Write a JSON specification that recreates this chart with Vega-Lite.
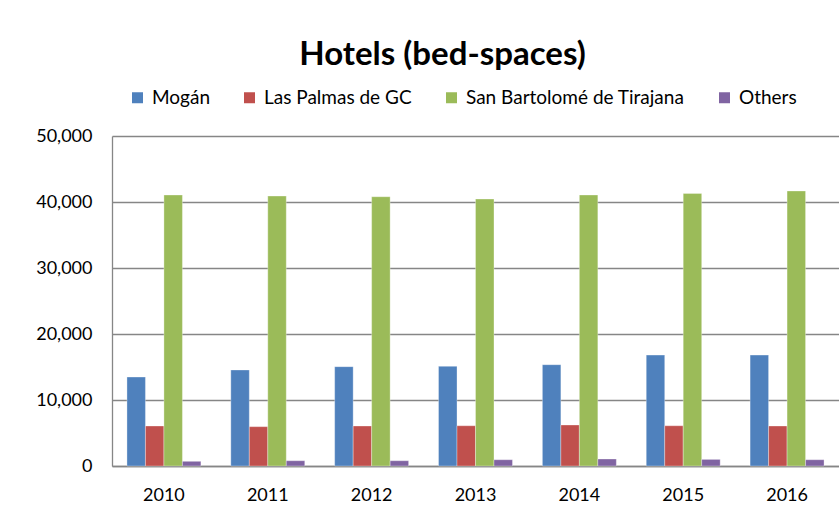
{
  "$schema": "https://vega.github.io/schema/vega-lite/v6.json",
  "width": 727,
  "height": 330,
  "autosize": {"type": "none"},
  "padding": {"left": 112, "top": 136, "right": 0, "bottom": 50},
  "background": "white",
  "title": {
    "text": "Hotels (bed-spaces)",
    "font": "Lato",
    "fontSize": 33,
    "fontWeight": "bold",
    "color": "#000000",
    "anchor": "middle",
    "dx": -33,
    "offset": 16
  },
  "data": {
    "values": [
      {"year": "2010", "series": "Mogán", "value": 13480},
      {"year": "2010", "series": "Las Palmas de GC", "value": 6060},
      {"year": "2010", "series": "San Bartolomé de Tirajana", "value": 41060},
      {"year": "2010", "series": "Others", "value": 710},
      {"year": "2011", "series": "Mogán", "value": 14550},
      {"year": "2011", "series": "Las Palmas de GC", "value": 5960},
      {"year": "2011", "series": "San Bartolomé de Tirajana", "value": 40900},
      {"year": "2011", "series": "Others", "value": 800},
      {"year": "2012", "series": "Mogán", "value": 15050},
      {"year": "2012", "series": "Las Palmas de GC", "value": 6060},
      {"year": "2012", "series": "San Bartolomé de Tirajana", "value": 40800},
      {"year": "2012", "series": "Others", "value": 800},
      {"year": "2013", "series": "Mogán", "value": 15100},
      {"year": "2013", "series": "Las Palmas de GC", "value": 6100},
      {"year": "2013", "series": "San Bartolomé de Tirajana", "value": 40450},
      {"year": "2013", "series": "Others", "value": 950},
      {"year": "2014", "series": "Mogán", "value": 15350},
      {"year": "2014", "series": "Las Palmas de GC", "value": 6210},
      {"year": "2014", "series": "San Bartolomé de Tirajana", "value": 41060},
      {"year": "2014", "series": "Others", "value": 1060},
      {"year": "2015", "series": "Mogán", "value": 16800},
      {"year": "2015", "series": "Las Palmas de GC", "value": 6100},
      {"year": "2015", "series": "San Bartolomé de Tirajana", "value": 41300},
      {"year": "2015", "series": "Others", "value": 1000},
      {"year": "2016", "series": "Mogán", "value": 16800},
      {"year": "2016", "series": "Las Palmas de GC", "value": 6060},
      {"year": "2016", "series": "San Bartolomé de Tirajana", "value": 41670},
      {"year": "2016", "series": "Others", "value": 950}
    ]
  },
  "mark": {"type": "bar", "stroke": "white", "strokeOpacity": 0.4, "strokeWidth": 0.8},
  "encoding": {
    "x": {
      "field": "year",
      "type": "nominal",
      "title": null,
      "scale": {"paddingInner": 0.288, "paddingOuter": 0.144},
      "axis": {
        "labelAngle": 0,
        "ticks": false,
        "tickSize": 0,
        "labelPadding": 20,
        "labelFont": "Lato",
        "labelFontSize": 18,
        "labelColor": "#000000",
        "domainColor": "#868686",
        "domainWidth": 1.3,
        "grid": false
      }
    },
    "xOffset": {
      "field": "series",
      "type": "nominal",
      "sort": ["Mogán", "Las Palmas de GC", "San Bartolomé de Tirajana", "Others"],
      "scale": {"paddingInner": 0, "paddingOuter": 0}
    },
    "y": {
      "field": "value",
      "type": "quantitative",
      "title": null,
      "scale": {"domain": [0, 50000], "nice": false},
      "axis": {
        "values": [0, 10000, 20000, 30000, 40000, 50000],
        "format": ",d",
        "ticks": false,
        "tickSize": 0,
        "labelPadding": 20,
        "labelFont": "Lato",
        "labelFontSize": 18,
        "labelColor": "#000000",
        "domainColor": "#868686",
        "domainWidth": 1.3,
        "gridColor": "#868686",
        "gridWidth": 1.3
      }
    },
    "color": {
      "field": "series",
      "type": "nominal",
      "title": null,
      "scale": {
        "domain": ["Mogán", "Las Palmas de GC", "San Bartolomé de Tirajana", "Others"],
        "range": ["#4F81BD", "#C0504D", "#9BBB59", "#8064A2"]
      },
      "legend": {
        "orient": "none",
        "direction": "horizontal",
        "legendX": 16,
        "legendY": -48,
        "symbolType": "square",
        "symbolSize": 121,
        "symbolStrokeWidth": 0,
        "labelFont": "Lato",
        "labelFontSize": 19,
        "labelColor": "#000000",
        "labelOffset": 5,
        "labelLimit": 0,
        "columnPadding": 30
      }
    }
  },
  "config": {
    "view": {"stroke": null}
  }
}
